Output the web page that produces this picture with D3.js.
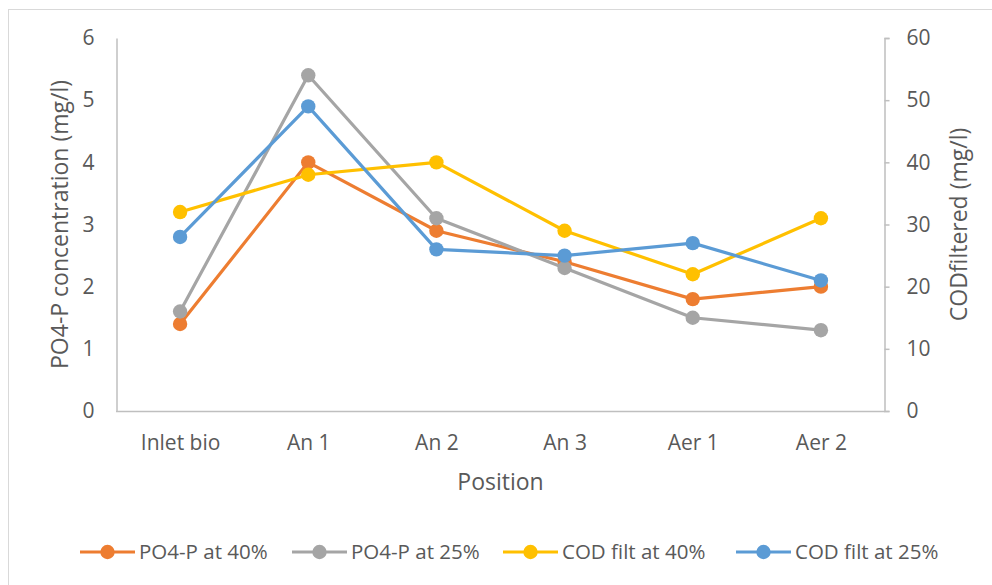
<!DOCTYPE html>
<html>
<head>
<meta charset="utf-8">
<script src="https://cdn.jsdelivr.net/npm/d3@7"></script>
<style>
  html, body { margin: 0; padding: 0; background: #fff; }
  svg { display: block; }
  text { font-family: "Open Sans", Lato, sans-serif; fill: #595959; }
</style>
</head>
<body>
<svg id="chart" width="992" height="585"></svg>
<script>
const categories = ["Inlet bio", "An 1", "An 2", "An 3", "Aer 1", "Aer 2"];
const po4At40 = [1.4, 4.0, 2.9, 2.4, 1.8, 2.0];
const po4At25 = [1.6, 5.4, 3.1, 2.3, 1.5, 1.3];
const codAt40 = [32, 38, 40, 29, 22, 31];
const codAt25 = [28, 49, 26, 25, 27, 21];
const leftTicks = [0, 1, 2, 3, 4, 5, 6];
const rightTicks = [0, 10, 20, 30, 40, 50, 60];

const series = [
  { name: "PO4-P at 40%", values: po4At40, axis: "left", color: "#ED7D31" },
  { name: "PO4-P at 25%", values: po4At25, axis: "left", color: "#A5A5A5" },
  { name: "COD filt at 40%", values: codAt40, axis: "right", color: "#FFC000" },
  { name: "COD filt at 25%", values: codAt25, axis: "right", color: "#5B9BD5" }
];

const svg = d3.select("#chart");
const W = 992, H = 585;
const plot = { left: 116, right: 885, top: 38, bottom: 411 };
const FONT = "'Open Sans', Lato, sans-serif";

// outer chart border
svg.append("rect")
  .attr("x", 8.5).attr("y", 9.5)
  .attr("width", W - 8.5 + 5).attr("height", H - 9.5 + 5)
  .attr("fill", "none").attr("stroke", "#D9D9D9").attr("stroke-width", 1);

const x = d3.scalePoint().domain(categories).range([plot.left, plot.right]).padding(0.5);
const yL = d3.scaleLinear().domain([0, 6]).range([plot.bottom, plot.top]);
const yR = d3.scaleLinear().domain([0, 60]).range([plot.bottom, plot.top]);

const axisColor = "#BFBFBF";
const fontSize = 21;
const titleSize = 23;

function styleText(g, size) {
  g.selectAll("text").style("font-size", size + "px").attr("fill", "#595959").style("font-family", FONT);
}

// left axis
const gL = svg.append("g").attr("transform", `translate(${plot.left + 0.5},0)`)
  .call(d3.axisLeft(yL).tickValues(leftTicks).tickSize(0).tickPadding(22).tickFormat(d3.format("d")));
gL.select(".domain").attr("stroke", axisColor).attr("stroke-width", 1.5);
styleText(gL, fontSize);

// right axis
const gR = svg.append("g").attr("transform", `translate(${plot.right - 0.5},0)`)
  .call(d3.axisRight(yR).tickValues(rightTicks).tickSizeInner(5).tickSizeOuter(5).tickPadding(17).tickFormat(d3.format("d")));
gR.select(".domain").attr("stroke", axisColor).attr("stroke-width", 1.5);
gR.selectAll(".tick line").attr("stroke", axisColor).attr("stroke-width", 1.5);
styleText(gR, fontSize);

// bottom axis
const gB = svg.append("g").attr("transform", `translate(0,${plot.bottom + 0.5})`)
  .call(d3.axisBottom(x).tickSize(0).tickPadding(23.5));
gB.select(".domain").attr("stroke", axisColor).attr("stroke-width", 1.5)
  .attr("d", `M${plot.left},0H${plot.right}`);
styleText(gB, fontSize);

// axis titles
svg.append("text")
  .attr("transform", `translate(68,${(plot.top + plot.bottom) / 2}) rotate(-90)`)
  .attr("text-anchor", "middle").style("font-size", titleSize + "px")
  .text("PO4-P concentration (mg/l)");
svg.append("text")
  .attr("transform", `translate(967,${(plot.top + plot.bottom) / 2}) rotate(-90)`)
  .attr("text-anchor", "middle").style("font-size", titleSize + "px")
  .text("CODfiltered (mg/l)");
svg.append("text")
  .attr("x", (plot.left + plot.right) / 2).attr("y", 490)
  .attr("text-anchor", "middle").style("font-size", titleSize + "px")
  .text("Position");

// series
const lineGen = (scale) => d3.line().x((d, i) => x(categories[i])).y(d => scale(d));
series.forEach(s => {
  const scale = s.axis === "left" ? yL : yR;
  const g = svg.append("g");
  g.append("path").datum(s.values)
    .attr("d", lineGen(scale))
    .attr("fill", "none").attr("stroke", s.color).attr("stroke-width", 3.2)
    .attr("stroke-linejoin", "round");
  g.selectAll("circle").data(s.values).enter().append("circle")
    .attr("cx", (d, i) => x(categories[i]))
    .attr("cy", d => scale(d))
    .attr("r", 7.2)
    .attr("fill", s.color);
});

// legend
const legendX = [80, 292, 503, 736];
const legY = 552;
series.forEach((s, i) => {
  const g = svg.append("g").attr("transform", `translate(${legendX[i]},${legY})`);
  g.append("line").attr("x1", 0).attr("x2", 55).attr("y1", 0).attr("y2", 0)
    .attr("stroke", s.color).attr("stroke-width", 3.2);
  g.append("circle").attr("cx", 27.5).attr("cy", 0).attr("r", 7.2).attr("fill", s.color);
  g.append("text").attr("x", 59).attr("y", 0).attr("dy", "0.35em")
    .style("font-size", "20.5px").text(s.name);
});
</script>
</body>
</html>
